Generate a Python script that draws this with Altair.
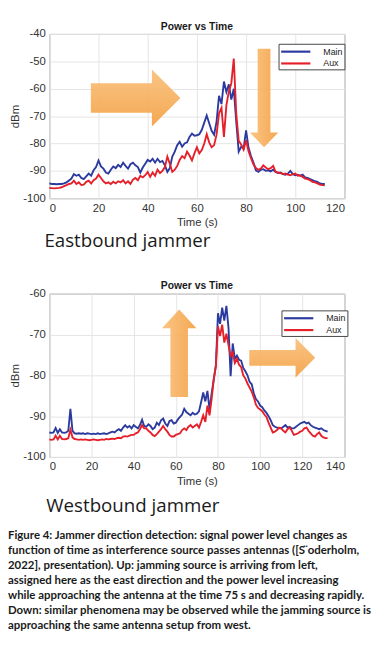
import altair as alt
import pandas as pd

# ---------------- data ----------------
time_east = list(range(113))
main_east = [
    -94.6, -94.8, -94.8, -94.9, -94.8, -94.8, -94.6, -94.2, -93.5, -92.8,
    -91.2, -91.8, -91.4, -92.6, -93.0, -92.0, -91.0, -91.8, -89.8, -88.6,
    -86.2, -88.4, -89.2, -90.6, -91.0, -89.6, -88.4, -89.0, -87.8, -88.6,
    -87.0, -88.2, -89.2, -87.6, -87.0, -88.0, -88.6, -90.6, -88.8, -87.4,
    -86.0, -86.6, -85.6, -87.0, -85.6, -86.8, -86.4, -88.0, -90.4, -89.0,
    -84.8, -83.0, -80.6, -79.4, -81.2, -80.0, -79.6, -77.6, -76.4, -77.2,
    -77.0, -76.6, -75.0, -72.4, -69.8, -72.6, -75.4, -76.8, -72.0, -62.6,
    -65.6, -57.4, -61.2, -58.4, -64.0, -60.0, -72.0, -83.0, -81.2, -81.8,
    -75.2, -81.6, -84.6, -87.0, -89.8, -90.4, -89.6, -89.4, -90.0, -89.8,
    -90.2, -89.6, -90.4, -90.8, -90.6, -91.2, -91.4, -91.0, -90.0, -91.2,
    -91.6, -91.4, -91.8, -91.4, -92.4, -92.6, -93.0, -93.4, -93.8, -94.0,
    -94.6, -94.8, -94.8,
]
aux_east = [
    -96.2, -96.3, -96.4, -96.3, -96.2, -96.0, -95.6, -95.2, -94.8, -94.6,
    -93.6, -94.8, -94.2, -95.2, -95.0, -94.0, -93.6, -94.6, -93.4, -92.8,
    -91.4, -92.6, -93.8, -94.6, -94.2, -94.8, -94.0, -94.6, -93.8, -94.2,
    -93.4, -94.6, -93.8, -94.8, -93.2, -92.6, -93.4, -91.8, -92.4, -91.6,
    -90.4, -92.2, -90.6, -91.8, -89.6, -90.8, -90.0, -88.6, -84.8, -87.4,
    -90.4, -89.6, -88.2, -86.0, -84.6, -85.4, -83.0, -84.4, -86.2, -83.6,
    -81.4, -83.6, -82.4, -80.0, -76.6, -79.6, -81.4, -80.6, -76.8, -69.0,
    -67.0, -77.6, -66.0, -61.0, -58.0, -49.0, -69.0, -79.0, -80.4, -82.2,
    -78.8, -82.8, -85.4, -87.6, -89.0, -89.6, -89.2, -88.0, -88.8, -89.4,
    -89.0, -88.2, -90.4, -90.6, -90.8, -91.2, -91.0, -91.4, -91.6, -91.2,
    -91.0, -91.8, -91.6, -92.2, -92.8, -93.0, -93.4, -94.0, -94.2, -94.6,
    -95.0, -95.2, -95.3,
]

time_west = list(range(133))
main_west = [
    -94.0, -94.1, -94.0, -92.9, -94.1, -93.2, -94.0, -94.1, -94.0, -93.6,
    -88.2, -93.6, -94.2, -94.3, -94.2, -94.3, -94.2, -94.4, -94.2, -94.3,
    -94.4, -94.3, -94.4, -94.2, -94.4, -94.3, -94.2, -94.4, -94.2, -94.0,
    -93.8, -94.0, -93.5, -93.2, -93.6, -92.8, -92.2, -92.8, -92.4, -93.0,
    -92.2, -92.6, -93.0, -92.2, -90.9, -92.4, -92.6, -92.0, -92.4, -93.2,
    -92.8, -91.6, -92.2, -91.0, -90.6, -91.8, -92.4, -91.2, -91.0, -91.8,
    -91.6, -90.8, -90.2, -89.6, -88.2, -89.0, -89.4, -89.8, -89.2, -89.6,
    -89.4, -88.8, -86.6, -84.2, -86.4, -83.8, -88.4, -84.4, -81.0, -77.6,
    -64.8, -67.4, -63.4, -66.6, -63.0, -68.4, -80.2, -72.2, -76.0, -75.2,
    -76.2, -76.4, -78.2, -79.0, -80.0, -81.6, -82.2, -84.4, -85.8, -86.4,
    -87.4, -87.8, -88.6, -89.2, -90.0, -91.0, -92.2, -92.6, -92.8, -93.0,
    -93.0, -92.6, -92.2, -92.8, -92.6, -93.0, -93.0, -92.6, -92.2, -91.8,
    -91.6, -91.4, -91.8, -91.6, -92.2, -92.6, -92.8, -93.0, -93.2, -93.0,
    -93.4, -93.6, -93.8,
]
aux_west = [
    -95.7, -95.8, -95.7, -94.8, -95.7, -94.8, -95.6, -95.7, -95.6, -95.4,
    -93.3, -95.2, -95.6, -95.7, -95.8, -95.7, -95.8, -95.7, -95.8, -95.9,
    -95.8, -95.7, -95.8, -95.9, -95.8, -95.7, -95.8, -95.6, -95.7, -95.6,
    -95.5, -95.6, -95.4, -95.3, -95.4, -95.0, -94.9, -95.0, -94.8, -94.6,
    -94.6, -94.2, -94.0, -93.2, -92.2, -93.0, -93.0, -93.6, -94.0, -94.6,
    -94.9, -94.4, -93.8, -93.2, -92.4, -93.2, -93.8, -94.6, -95.0, -95.0,
    -94.6, -94.4, -94.2, -93.4, -93.0, -93.4, -92.6, -92.2, -92.8, -92.4,
    -92.0, -92.8, -91.4, -89.8, -91.4, -87.4, -89.8, -85.8, -81.0, -77.8,
    -68.0, -70.4, -67.6, -72.0, -69.8, -72.6, -75.2, -74.4, -77.0, -76.0,
    -77.4, -78.0, -80.0, -80.8, -82.0, -83.0, -84.0, -85.4, -87.2, -88.0,
    -88.4, -88.8, -89.6, -90.2, -91.6, -92.8, -94.0, -93.8, -93.4, -92.8,
    -93.0, -93.6, -94.0, -93.2, -92.8, -93.6, -94.6, -94.4, -94.2, -93.8,
    -93.6, -93.0, -92.8, -93.6, -94.2, -94.8, -95.0, -94.4, -94.0, -94.8,
    -95.2, -95.4, -95.4,
]

series_names = ["Main", "Aux"]
series_colors = ["#2B3A9E", "#E5202B"]

chart_title = "Power vs Time"
x_title = "Time (s)"
y_title = "dBm"
east_label = "Eastbound jammer"
west_label = "Westbound jammer"
caption_lines = [
    "Figure 4: Jammer direction detection: signal power level changes as",
    "function of time as interference source passes antennas ([S \u0308oderholm,",
    "2022], presentation). Up: jamming source is arriving from left,",
    "assigned here as the east direction and the power level increasing",
    "while approaching the antenna at the time 75 s and decreasing rapidly.",
    "Down: similar phenomena may be observed while the jamming source is",
    "approaching the same antenna setup from west.",
]

# annotation arrows: centre (time, dBm)
east_arrows = [
    {"t": 35.1, "dBm": -63.4, "dir": "right"},
    {"t": 87.3, "dBm": -63.4, "dir": "down"},
]
west_arrows = [
    {"t": 61.6, "dBm": -74.6, "dir": "up"},
    {"t": 110.5, "dBm": -75.7, "dir": "right2"},
]

arrow_paths = {
    "right": "M -1 -0.33 L 0.363 -0.33 L 0.363 -0.637 L 1 0 L 0.363 0.637 L 0.363 0.33 L -1 0.33 Z",
    "down": "M -0.13 -1 L 0.13 -1 L 0.13 0.7 L 0.29 0.7 L 0 1 L -0.29 0.7 L -0.13 0.7 Z",
    "up": "M 0 -1 L 0.393 -0.573 L 0.2 -0.573 L 0.2 1 L -0.2 1 L -0.2 -0.573 L -0.393 -0.573 Z",
    "right2": "M -1 -0.239 L 0.403 -0.239 L 0.403 -0.597 L 1 0 L 0.403 0.597 L 0.403 0.239 L -1 0.239 Z",
}
arrow_sizes = {"right": 8281, "down": 10000, "up": 7921, "right2": 4489}

FONT = "Liberation Sans"
PW = 300
HYPHEN_LABEL = "datum.value < 0 ? '-' + abs(datum.value) : '' + datum.value"


def long_df(t, m, a):
    return pd.DataFrame({
        "t": t + t,
        "dBm": m + a,
        "series": ["Main"] * len(t) + ["Aux"] * len(t),
    })


def panel(df, xmax, ymin, ymax, arrows, lx, ly, height):
    x = alt.X("t:Q", scale=alt.Scale(domain=[0, xmax], nice=False),
              axis=alt.Axis(values=list(range(0, xmax + 1, 20)), title=x_title,
                            labelPadding=4, titlePadding=3, grid=True, labelOverlap=False))
    y = alt.Y("dBm:Q", scale=alt.Scale(domain=[ymin, ymax], nice=False, zero=False),
              axis=alt.Axis(values=list(range(ymin, ymax + 1, 10)), title=y_title,
                            labelPadding=4, titlePadding=2, grid=True, labelOverlap=False,
                            labelExpr=HYPHEN_LABEL))
    color = alt.Color("series:N",
                      scale=alt.Scale(domain=series_names, range=series_colors),
                      legend=alt.Legend(orient="none", legendX=lx, legendY=ly, title=None,
                                        symbolType="M -2.7 0 L 2.7 0", symbolStrokeWidth=2.2,
                                        symbolSize=121, symbolOffset=9.5, labelOffset=21,
                                        labelFontSize=9, labelFont=FONT,
                                        labelColor="#222", fillColor="white",
                                        strokeColor="#444", padding=1, rowPadding=0))
    layers = []
    for name in series_names:
        layers.append(
            alt.Chart(df).transform_filter(alt.datum.series == name)
            .mark_line(strokeWidth=1.9)
            .encode(x=x, y=y, color=color)
        )
    for a in arrows:
        horiz = a["dir"].startswith("right")
        grad = alt.LinearGradient(
            gradient="linear",
            stops=[alt.GradientStop(color="#FAC07A", offset=0),
                   alt.GradientStop(color="#F3A044", offset=1)],
            x1=0, y1=0, x2=0 if horiz else 1, y2=1 if horiz else 0,
        )
        layers.append(
            alt.Chart(pd.DataFrame([a])).mark_point(
                shape=arrow_paths[a["dir"]], size=arrow_sizes[a["dir"]],
                filled=True, fill=grad, opacity=0.92, strokeWidth=0,
            ).encode(x=x, y=y)
        )
    return alt.layer(*layers).properties(
        width=PW, height=height,
        title=alt.TitleParams(chart_title, font=FONT, fontSize=10.5, fontWeight="bold",
                              color="#1a1a1a", offset=-4, anchor="middle"),
    )


def text_panel(height, items):
    layers = []
    for (txt, xv, yv, kw) in items:
        layers.append(
            alt.Chart(pd.DataFrame({"k": [0]})).mark_text(align="left", baseline="alphabetic", **kw)
            .encode(x=alt.value(xv), y=alt.value(yv), text=alt.value(txt))
        )
    return alt.layer(*layers).properties(width=PW, height=height,
                                         view=alt.ViewBackground(strokeOpacity=0))


east = panel(long_df(time_east, main_east, aux_east), 120, -100, -40, east_arrows, 233, 10, 167)
west = panel(long_df(time_west, main_west, aux_west), 140, -100, -60, west_arrows, 236, 17, 166)

big = dict(font="Open Sans", fontSize=19, color="#1a1a1a")
cap = dict(font="Lato", fontSize=11.6, fontWeight="bold", color="#1a1a1a",
           lineHeight=15.3)

east_text = text_panel(97, [(east_label, -5, 50, big)])
west_text = text_panel(200, [(west_label, -3, 56, big), (caption_lines, -42, 83, cap)])

chart = alt.vconcat(east, east_text, west, west_text, spacing=0, bounds="flush").resolve_scale(
    color="independent", x="independent", y="independent"
).resolve_legend(color="independent").properties(
    padding={"left": 0, "top": 8, "right": 0, "bottom": 0}
).configure_axis(
    labelFont=FONT, labelFontSize=11.5, labelColor="#333", titleFont=FONT, titleFontSize=11.5,
    titleFontWeight="normal", titleColor="#333", gridColor="#E4E4E4", domain=False, ticks=False,
).configure_view(stroke="#8a8a8a", strokeWidth=1)

chart.save("out.html", embed_options={"renderer": "svg", "actions": False})
